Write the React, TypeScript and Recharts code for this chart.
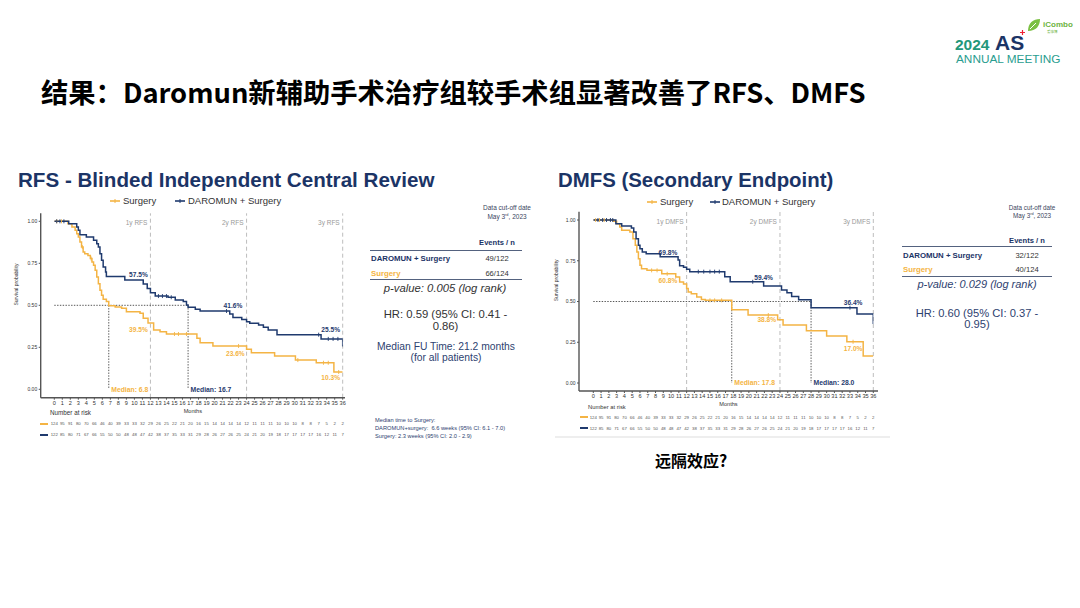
import React from 'react';
import {
  ComposedChart,
  Line,
  Scatter,
  XAxis,
  YAxis,
  ReferenceLine,
  ReferenceDot,
} from 'recharts';

// ── Colours & fonts ───────────────────────────────────────────────────────────

const NAVY = '#1F3A6E';
const ORANGE = '#F4B444';
const TEXT = '#333';
const FONT = '"Liberation Sans", Arial, sans-serif';
const CJK = '"Noto Sans CJK SC", "Noto Sans", sans-serif';

// ── Data ──────────────────────────────────────────────────────────────────────

type Step = [number, number]; // [month, survival]

const MONTHS = [
  0, 1, 2, 3, 4, 5, 6, 7, 8, 9, 10, 11, 12, 13, 14, 15, 16, 17, 18, 19, 20, 21,
  22, 23, 24, 25, 26, 27, 28, 29, 30, 31, 32, 33, 34, 35, 36,
];
const Y_TICKS = [0, 0.25, 0.5, 0.75, 1];
const YEAR_MARKS = [12, 24, 36];

const RISK_SURGERY = [
  124, 95, 91, 80, 70, 66, 46, 40, 39, 33, 33, 32, 29, 26, 25, 22, 21, 20, 16,
  15, 14, 14, 14, 14, 12, 11, 11, 11, 10, 10, 10, 8, 8, 7, 5, 2, 2,
];
const RISK_DAROMUN = [
  122, 85, 80, 71, 67, 66, 55, 50, 50, 48, 48, 47, 42, 38, 37, 35, 33, 31, 29,
  28, 26, 27, 26, 25, 24, 21, 20, 19, 18, 17, 17, 17, 17, 16, 12, 11, 7,
];

// RFS curves
const RFS_DAROMUN: Step[] = [
  [0, 1], [1.8, 0.986], [2.8, 0.966], [3.0, 0.946], [3.2, 0.92], [4.0, 0.906],
  [4.9, 0.887], [5.3, 0.867], [5.5, 0.847], [5.7, 0.807], [5.9, 0.768],
  [6.1, 0.728], [6.4, 0.698], [6.5, 0.672], [8.8, 0.65], [11.1, 0.627],
  [11.6, 0.6], [12.0, 0.575], [12.6, 0.555], [14.2, 0.548], [15.1, 0.532],
  [16.1, 0.522], [16.5, 0.502], [16.7, 0.488], [17.6, 0.476], [18.2, 0.466],
  [21.9, 0.448], [22.3, 0.428], [23.4, 0.416], [24.0, 0.402], [24.4, 0.393],
  [25.5, 0.383], [26.1, 0.369], [26.7, 0.353], [27.8, 0.325], [33.3, 0.3],
  [36, 0.255],
];
const RFS_SURGERY: Step[] = [
  [0, 1], [1.7, 0.986], [2.2, 0.966], [2.6, 0.946], [2.8, 0.926], [3.0, 0.906],
  [3.2, 0.877], [3.4, 0.847], [3.6, 0.817], [3.8, 0.807], [4.2, 0.797],
  [4.5, 0.778], [4.7, 0.758], [4.9, 0.738], [5.1, 0.708], [5.3, 0.668],
  [5.5, 0.629], [5.7, 0.589], [5.9, 0.56], [6.1, 0.536], [6.5, 0.522],
  [6.8, 0.498], [7.6, 0.49], [8.4, 0.482], [9.0, 0.462], [10.7, 0.452],
  [11.1, 0.423], [11.7, 0.395], [12.4, 0.353], [13.2, 0.343], [14.0, 0.329],
  [17.8, 0.304], [18.2, 0.277], [19.8, 0.258], [24.0, 0.238], [24.6, 0.218],
  [27.5, 0.198], [30.1, 0.174], [32.7, 0.158], [34.9, 0.103], [36, 0.103],
];
const RFS_CENSOR_DAROMUN = [0.3, 0.7, 1.2, 13.0, 13.5, 14.0, 14.6, 21.5, 33.0, 34.2, 34.8, 35.4];
const RFS_CENSOR_SURGERY = [0.3, 0.9, 3.5, 4.6, 15.0, 15.5, 16.5, 23.0, 30.4, 33.6, 34.2, 35.5];

// DMFS curves
const DMFS_DAROMUN: Step[] = [
  [0, 1], [2.9, 0.977], [3.65, 0.963], [4.9, 0.951], [5.2, 0.926], [5.5, 0.885],
  [5.8, 0.845], [6.0, 0.824], [6.3, 0.804], [6.8, 0.793], [8.6, 0.775],
  [10.9, 0.755], [11.1, 0.72], [11.6, 0.71], [12.0, 0.698], [12.4, 0.683],
  [16.9, 0.652], [17.6, 0.621], [21.9, 0.595], [24.2, 0.57], [24.9, 0.554],
  [25.5, 0.53], [26.4, 0.51], [28.0, 0.462], [33.9, 0.423], [36, 0.362],
];
const DMFS_SURGERY: Step[] = [
  [0, 1], [2.6, 0.992], [3.0, 0.977], [3.4, 0.957], [3.65, 0.937], [4.7, 0.926],
  [5.1, 0.885], [5.4, 0.845], [5.6, 0.804], [5.8, 0.763], [6.0, 0.722],
  [6.2, 0.701], [6.9, 0.691], [8.8, 0.67], [10.6, 0.65], [11.1, 0.62],
  [11.6, 0.608], [12.0, 0.579], [12.2, 0.558], [12.6, 0.548], [13.3, 0.528],
  [13.9, 0.513], [14.4, 0.507], [17.8, 0.45], [19.9, 0.417], [23.7, 0.388],
  [24.4, 0.356], [27.4, 0.321], [30.0, 0.288], [32.6, 0.253], [34.7, 0.166],
  [36, 0.166],
];
const DMFS_CENSOR_DAROMUN = [0.6, 1.2, 1.7, 2.2, 2.5, 13.5, 14.2, 15.0, 15.6, 16.2, 20.5, 33.0];
const DMFS_CENSOR_SURGERY = [0.3, 0.8, 1.4, 7.5, 8.2, 9.5, 15.0, 15.6, 16.5, 22.5, 33.4];

// Annotations: [month, survival, text]
type Note = [number, number, string];
const RFS_NOTES_DAROMUN: Note[] = [[10.5, 0.683, '57.5%'], [22.3, 0.5, '41.6%'], [34.5, 0.356, '25.5%']];
const RFS_NOTES_SURGERY: Note[] = [[10.5, 0.357, '39.5%'], [22.6, 0.214, '23.6%'], [34.5, 0.069, '10.3%']];
const DMFS_NOTES_DAROMUN: Note[] = [[9.6, 0.8, '69.8%'], [21.9, 0.648, '59.4%'], [33.4, 0.493, '36.4%']];
const DMFS_NOTES_SURGERY: Note[] = [[9.6, 0.628, '60.8%'], [22.3, 0.387, '38.8%'], [33.4, 0.213, '17.0%']];

const RFS_MEDIANS = { surgery: 6.8, daromun: 16.7 };
const DMFS_MEDIANS = { surgery: 17.8, daromun: 28.0 };

// ── Helpers ───────────────────────────────────────────────────────────────────

const toData = (steps: Step[]) => steps.map(([t, s]) => ({ t, s }));

const survAt = (steps: Step[], t: number) => {
  let s = 1;
  for (const [tt, ss] of steps) if (tt <= t) s = ss;
  return s;
};

const censorData = (steps: Step[], times: number[]) =>
  times.map(t => ({ t, s: survAt(steps, t) }));

function CensorTick(color: string) {
  return (props: any) => (
    <line x1={props.cx} x2={props.cx} y1={props.cy - 2} y2={props.cy + 2} stroke={color} strokeWidth={0.9} />
  );
}

function T({
  x, y, size, color = TEXT, weight = 400, italic = false, align = 'left', font = FONT, children,
}: {
  x: number; y: number; size: number; color?: string; weight?: number; italic?: boolean;
  align?: 'left' | 'center' | 'right'; font?: string; children: React.ReactNode;
}) {
  const tx = align === 'center' ? 'translateX(-50%)' : align === 'right' ? 'translateX(-100%)' : undefined;
  return (
    <div
      style={{
        position: 'absolute', left: x, top: y - size * 0.6, fontSize: size, lineHeight: `${size * 1.2}px`,
        color, fontWeight: weight, fontStyle: italic ? 'italic' : 'normal', fontFamily: font,
        whiteSpace: 'nowrap', transform: tx,
      }}
    >
      {children}
    </div>
  );
}

function Marker({ x, y, color }: { x: number; y: number; color: string }) {
  return (
    <svg style={{ position: 'absolute', left: x, top: y - 4 }} width={10} height={8}>
      <line x1={0} x2={10} y1={4} y2={4} stroke={color} strokeWidth={1.6} />
      <line x1={5} x2={5} y1={2} y2={6} stroke={color} strokeWidth={1} />
    </svg>
  );
}

function Rule({ x, y, w }: { x: number; y: number; w: number }) {
  return <div style={{ position: 'absolute', left: x, top: y, width: w, height: 1.3, background: '#54627f' }} />;
}

function Dash({ x, y, color, h = 2 }: { x: number; y: number; color: string; h?: number }) {
  return <div style={{ position: 'absolute', left: x, top: y - h / 2, width: 8, height: h, background: color }} />;
}

// ── KM chart ──────────────────────────────────────────────────────────────────

interface KMProps {
  left: number; top: number; width: number; height: number;
  margin: { top: number; right: number; bottom: number; left: number };
  xPad: { left: number; right: number };
  yPad: { top: number; bottom: number };
  mainH: number; tickGap: number; monthsOffset: number; riskGap: number;
  ylabelOffset: number;
  daromun: Step[]; surgery: Step[];
  censorD: number[]; censorS: number[];
  notesD: Note[]; notesS: Note[];
  medians: { surgery: number; daromun: number };
  tag: string;
}

function KMChart(p: KMProps) {
  const labelStyle = { fontSize: 6.6, fontWeight: 700 };
  const riskAxis = (id: string, risk: number[]) => (
    <XAxis
      xAxisId={id} dataKey="t" type="number" domain={[0, 36]} ticks={MONTHS} interval={0} allowDataOverflow
      padding={p.xPad} height={11} tickSize={0} tickMargin={p.riskGap}
      tick={{ fontSize: 4.3, fill: '#555' }} axisLine={false} tickLine={false}
      tickFormatter={(v: number) => String(risk[v])}
    />
  );
  return (
    <div style={{ position: 'absolute', left: p.left, top: p.top }}>
      <ComposedChart width={p.width} height={p.height} margin={p.margin}>
        <XAxis
          dataKey="t" type="number" domain={[0, 36]} ticks={MONTHS} interval={0} allowDataOverflow
          padding={p.xPad} height={p.mainH} tickSize={2} tickMargin={p.tickGap}
          tick={{ fontSize: 5.6, fill: TEXT }}
          axisLine={{ stroke: '#555', strokeWidth: 1.4 }} tickLine={{ stroke: '#555' }}
          label={{ value: 'Months', position: 'insideBottom', offset: p.monthsOffset, fontSize: 5.6, fill: TEXT }}
        />
        {riskAxis('r1', RISK_SURGERY)}
        {riskAxis('r2', RISK_DAROMUN)}
        <YAxis
          type="number" domain={[0, 1]} ticks={Y_TICKS} padding={p.yPad} width={30}
          tickSize={2} tickMargin={1.5} tick={{ fontSize: 5, fill: TEXT }}
          tickFormatter={(v: number) => v.toFixed(2)}
          axisLine={{ stroke: '#555', strokeWidth: 1.4 }} tickLine={{ stroke: '#555' }}
          label={{ value: 'Survival probability', angle: -90, position: 'insideLeft', offset: p.ylabelOffset, fontSize: 5, fill: TEXT }}
        />

        {YEAR_MARKS.map(m => (
          <ReferenceLine key={`y${m}`} x={m} stroke="#bdbdbd" strokeWidth={1} strokeDasharray="4 3" />
        ))}
        {YEAR_MARKS.map(m => (
          <ReferenceDot
            key={`yl${m}`} x={m} y={0.99} r={0} fill="none" stroke="none"
            label={{ value: `${m / 12}y ${p.tag}`, position: 'left', offset: 3, fontSize: 6.5, fill: '#9a9a9a' }}
          />
        ))}

        <ReferenceLine
          segment={[{ x: 0, y: 0.5 }, { x: p.medians.daromun, y: 0.5 }]}
          stroke="#444" strokeWidth={0.9} strokeDasharray="1.4 1.4"
        />
        <ReferenceLine
          segment={[{ x: p.medians.surgery, y: 0.5 }, { x: p.medians.surgery, y: 0 }]}
          stroke="#444" strokeWidth={0.9} strokeDasharray="1.4 1.4"
        />
        <ReferenceLine
          segment={[{ x: p.medians.daromun, y: 0.5 }, { x: p.medians.daromun, y: 0 }]}
          stroke="#444" strokeWidth={0.9} strokeDasharray="1.4 1.4"
        />

        {/* invisible series so the number-at-risk axes get a domain */}
        <Line xAxisId="r1" data={toData(p.surgery)} dataKey="s" stroke="none" dot={false} activeDot={false} isAnimationActive={false} />
        <Line xAxisId="r2" data={toData(p.daromun)} dataKey="s" stroke="none" dot={false} activeDot={false} isAnimationActive={false} />

        <Line
          data={toData(p.surgery)} dataKey="s" type="stepAfter" stroke={ORANGE} strokeWidth={1.5}
          dot={false} activeDot={false} isAnimationActive={false}
        />
        <Line
          data={toData(p.daromun)} dataKey="s" type="stepAfter" stroke={NAVY} strokeWidth={1.5}
          dot={false} activeDot={false} isAnimationActive={false}
        />
        <Scatter data={censorData(p.surgery, p.censorS)} dataKey="s" shape={CensorTick(ORANGE)} isAnimationActive={false} />
        <Scatter data={censorData(p.daromun, p.censorD)} dataKey="s" shape={CensorTick(NAVY)} isAnimationActive={false} />

        {p.notesD.map(([x, y, v]) => (
          <ReferenceDot key={`nd${v}`} x={x} y={y} r={0} fill="none" stroke="none"
            label={{ value: v, position: 'center', fill: NAVY, ...labelStyle }} />
        ))}
        {p.notesS.map(([x, y, v]) => (
          <ReferenceDot key={`ns${v}`} x={x} y={y} r={0} fill="none" stroke="none"
            label={{ value: v, position: 'center', fill: ORANGE, ...labelStyle }} />
        ))}
        <ReferenceDot x={p.medians.surgery} y={0} r={0} fill="none" stroke="none"
          label={{ value: `Median: ${p.medians.surgery.toFixed(1)}`, position: 'right', offset: 2.5, fill: ORANGE, fontSize: 6.8, fontWeight: 700 }} />
        <ReferenceDot x={p.medians.daromun} y={0} r={0} fill="none" stroke="none"
          label={{ value: `Median: ${p.medians.daromun.toFixed(1)}`, position: 'right', offset: 2.5, fill: NAVY, fontSize: 6.8, fontWeight: 700 }} />
      </ComposedChart>
    </div>
  );
}

// ── Page ──────────────────────────────────────────────────────────────────────

export default function App() {
  return (
    <div
      style={{
        position: 'absolute', left: 0, top: 0, width: 1080, height: 608, background: '#fff',
        overflow: 'hidden', fontFamily: FONT,
      }}
    >
      {/* logo */}
      <svg style={{ position: 'absolute', left: 1026, top: 17 }} width={16} height={16}>
        <path d="M2 14 C2 6 7 2 14 2 C14 9 10 14 2 14 Z" fill="#7BC043" />
        <path d="M4 12 L10 6" stroke="#fff" strokeWidth={1} />
      </svg>
      <svg style={{ position: 'absolute', left: 1020, top: 30 }} width={5} height={5}>
        <path d="M2.5 0 L2.5 5 M0 2.5 L5 2.5" stroke="#e23" strokeWidth={1.2} />
      </svg>
      <T x={1043} y={25} size={8} color="#6DB33F" weight={700}>iCombo</T>
      <T x={1047} y={32} size={3.5} color="#6DB33F" font={CJK}>爱康博</T>
      <T x={955} y={45} size={15.5} color="#23977A" weight={700}>2024</T>
      <T x={995} y={43} size={21} color="#1B3466" weight={700}>AS</T>
      <T x={956} y={59.5} size={11.8} color="#2A9D8F">ANNUAL MEETING</T>

      {/* slide title */}
      <T x={41} y={91} size={27.3} color="#000" weight={700} font={CJK}>
        结果：Daromun新辅助手术治疗组较手术组显著改善了RFS、DMFS
      </T>

      {/* ── RFS panel ── */}
      <T x={18} y={180} size={20.6} color="#1B3466" weight={700}>RFS - Blinded Independent Central Review</T>
      <Marker x={110} y={201} color={ORANGE} />
      <T x={123} y={201} size={9.5} color={TEXT}>Surgery</T>
      <Marker x={175} y={201} color={NAVY} />
      <T x={188} y={201} size={9.5} color={TEXT}>DAROMUN + Surgery</T>

      <KMChart
        left={0} top={200} width={360} height={250}
        margin={{ top: 13.3, right: 15, bottom: 14.3, left: 10.7 }}
        xPad={{ left: 13.6, right: 2.3 }} yPad={{ top: 8, bottom: 8.4 }}
        mainH={16} tickGap={1.3} monthsOffset={1.2} riskGap={8}
        ylabelOffset={6}
        daromun={RFS_DAROMUN} surgery={RFS_SURGERY}
        censorD={RFS_CENSOR_DAROMUN} censorS={RFS_CENSOR_SURGERY}
        notesD={RFS_NOTES_DAROMUN} notesS={RFS_NOTES_SURGERY}
        medians={RFS_MEDIANS} tag="RFS"
      />
      <T x={50} y={413} size={6.3} color={TEXT}>Number at risk</T>
      <Dash x={40} y={423.5} color={ORANGE} />
      <Dash x={40} y={435} color={NAVY} h={2.4} />

      <T x={507} y={208} size={6.5} align="center" color="#3a4560">Data cut-off date</T>
      <T x={507} y={216.5} size={6.5} align="center" color="#3a4560">
        May 3<span style={{ fontSize: '0.6em', verticalAlign: 'super', lineHeight: 0 }}>rd</span>, 2023
      </T>
      <T x={497} y={242.5} size={7.6} align="center" color="#1B3466" weight={700}>Events / n</T>
      <Rule x={370} y={249.5} w={152} />
      <T x={371} y={258.3} size={7.8} color="#1B3466" weight={700}>DAROMUN + Surgery</T>
      <T x={497} y={258.3} size={7.6} align="center" color={TEXT}>49/122</T>
      <T x={371} y={273.3} size={7.8} color={ORANGE} weight={700}>Surgery</T>
      <T x={497} y={273.3} size={7.6} align="center" color={TEXT}>66/124</T>
      <Rule x={370} y={278.7} w={152} />
      <T x={445} y={288.5} size={11.3} align="center" italic color={TEXT}>p-value: 0.005 (log rank)</T>
      <T x={445.5} y={315} size={11.3} align="center" color={TEXT}>HR: 0.59 (95% CI: 0.41 -</T>
      <T x={445.5} y={326.5} size={11.3} align="center" color={TEXT}>0.86)</T>
      <T x={446} y={346.7} size={10.3} align="center" color="#2E4270">Median FU Time: 21.2 months</T>
      <T x={446} y={358.5} size={10.3} align="center" color="#2E4270">(for all patients)</T>
      <T x={375} y={420.5} size={5.7} color="#2E4270">Median time to Surgery:</T>
      <T x={375} y={428.5} size={5.7} color="#2E4270">DAROMUN+surgery:&nbsp; 6.6 weeks (95% CI: 6.1 - 7.0)</T>
      <T x={375} y={436.5} size={5.7} color="#2E4270">Surgery: 2.3 weeks (95% CI: 2.0 - 2.9)</T>

      {/* ── DMFS panel ── */}
      <T x={558} y={180} size={20.4} color="#1B3466" weight={700}>DMFS (Secondary Endpoint)</T>
      <Marker x={647} y={201.5} color={ORANGE} />
      <T x={660} y={201.5} size={9.5} color={TEXT}>Surgery</T>
      <Marker x={710} y={201.5} color={NAVY} />
      <T x={722} y={201.5} size={9.5} color={TEXT}>DAROMUN + Surgery</T>

      <KMChart
        left={540} top={200} width={350} height={245}
        margin={{ top: 11.7, right: 12, bottom: 17, left: 9 }}
        xPad={{ left: 14.3, right: 4.7 }} yPad={{ top: 8.3, bottom: 8 }}
        mainH={15} tickGap={1} monthsOffset={0.3} riskGap={9.8}
        ylabelOffset={7.7}
        daromun={DMFS_DAROMUN} surgery={DMFS_SURGERY}
        censorD={DMFS_CENSOR_DAROMUN} censorS={DMFS_CENSOR_SURGERY}
        notesD={DMFS_NOTES_DAROMUN} notesS={DMFS_NOTES_SURGERY}
        medians={DMFS_MEDIANS} tag="DMFS"
      />
      <T x={588} y={407} size={5.8} color={TEXT}>Number at risk</T>
      <Dash x={580} y={417.3} color={ORANGE} />
      <Dash x={580} y={428.3} color={NAVY} h={2.4} />
      <div style={{ position: 'absolute', left: 555, top: 436, width: 335, height: 2, background: '#eeeeee' }} />

      <T x={1032} y={207.3} size={6.3} align="center" color="#3a4560">Data cut-off date</T>
      <T x={1032} y={215.3} size={6.3} align="center" color="#3a4560">
        May 3<span style={{ fontSize: '0.6em', verticalAlign: 'super', lineHeight: 0 }}>rd</span>, 2023
      </T>
      <T x={1027} y={240.7} size={7.6} align="center" color="#1B3466" weight={700}>Events / n</T>
      <Rule x={901.7} y={246.2} w={150} />
      <T x={903} y={255.7} size={7.8} color="#1B3466" weight={700}>DAROMUN + Surgery</T>
      <T x={1027} y={255.7} size={7.6} align="center" color={TEXT}>32/122</T>
      <T x={903} y={270} size={7.8} color={ORANGE} weight={700}>Surgery</T>
      <T x={1027} y={270} size={7.6} align="center" color={TEXT}>40/124</T>
      <Rule x={901.7} y={275.5} w={150} />
      <T x={977} y={284.5} size={11} align="center" italic color="#2E4270">p-value: 0.029 (log rank)</T>
      <T x={977} y={313.3} size={11.2} align="center" color="#2E4270">HR: 0.60 (95% CI: 0.37 -</T>
      <T x={977} y={325} size={11.2} align="center" color="#2E4270">0.95)</T>

      <T x={691} y={461} size={16} align="center" color="#000" weight={700} font={CJK}>远隔效应?</T>
    </div>
  );
}
